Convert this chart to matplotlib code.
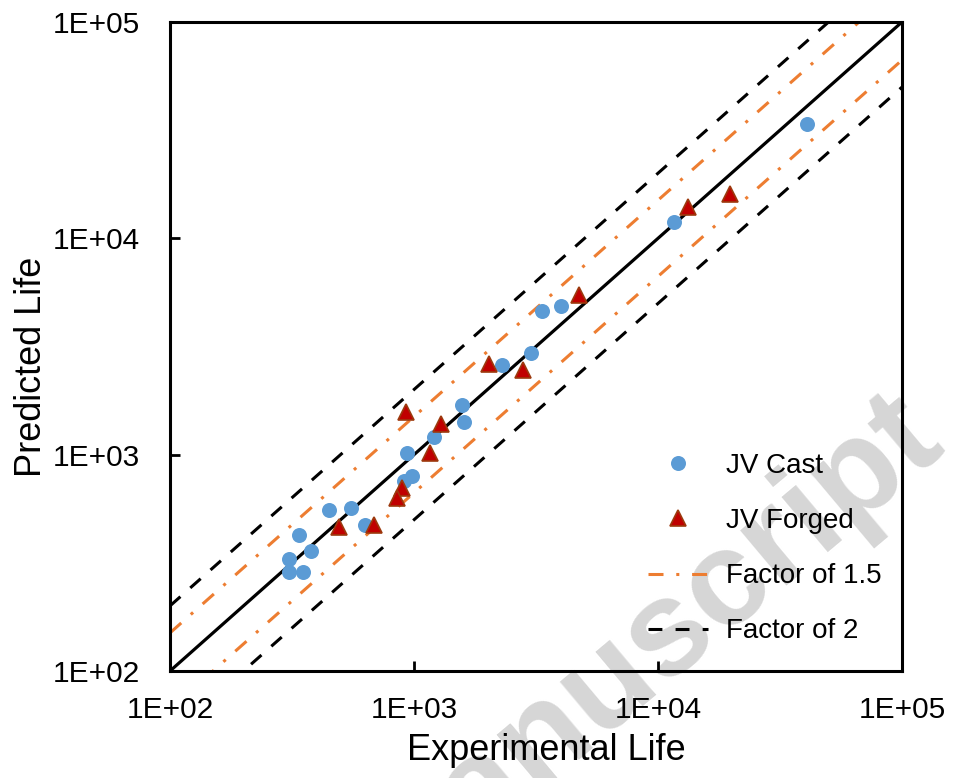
import matplotlib
matplotlib.use('Agg')
import matplotlib.pyplot as plt
import numpy as np

plt.rcParams['font.family'] = ['Liberation Sans', 'DejaVu Sans']
plt.rcParams['lines.scale_dashes'] = False

# ---- data ----
cast_exp = [3340, 4000, 3010, 2300, 1570, 1610, 1210, 933, 984, 912,
            552, 450, 630, 338, 379, 307, 308, 350, 40700, 11630]
cast_pred = [4590, 4890, 2950, 2590, 1700, 1420, 1207, 1018, 794, 753,
             565, 557, 472, 424, 357, 328, 286, 288, 33600, 11890]
forged_exp = [4750, 2035, 2790, 927, 1290, 1163, 893, 849, 494, 688, 13230, 19780]
forged_pred = [5470, 2630, 2450, 1574, 1390, 1018, 702, 631, 464, 475, 13900, 16010]

axis_limits = [1e2, 1e5]
tick_values = [1e2, 1e3, 1e4, 1e5]
tick_labels = ['1E+02', '1E+03', '1E+04', '1E+05']
factor_small = 1.5
factor_large = 2.0
series_labels = ['JV Cast', 'JV Forged', 'Factor of 1.5', 'Factor of 2']

W, H = 956, 778
fig = plt.figure(figsize=(W / 100, H / 100), dpi=100)
fig.patch.set_facecolor('white')
ax = fig.add_axes([170 / W, 1 - 671 / H, 732 / W, 649 / H])
ax.set_facecolor('none')

# watermark (behind the chart)
fig.text(948 / W, 1 - 450 / H, 'Accepted manuscript', rotation=40,
         rotation_mode='anchor', ha='right', va='baseline', fontsize=98,
         fontweight='bold', color='#d6d6d6', zorder=-5)

orange = '#ED7D31'
line_x = np.array(axis_limits)
ax.plot(line_x, line_x, color='black', lw=2.3, zorder=2)
f15, = ax.plot(line_x, line_x * factor_small, color=orange, lw=2.2,
               dashes=(10.8, 9.2, 2.2, 9.2), zorder=2)
ax.plot(line_x, line_x / factor_small, color=orange, lw=2.2,
        dashes=(10.8, 9.2, 2.2, 9.2), zorder=2)
f2, = ax.plot(line_x, line_x * factor_large, color='black', lw=2.2,
              dashes=(10.0, 9.5), zorder=2)
ax.plot(line_x, line_x / factor_large, color='black', lw=2.2,
        dashes=(10.0, 9.5), zorder=2)

cast, = ax.plot(cast_exp, cast_pred, 'o', ms=10.8, color='#5B9BD5',
                mec='#5B9BD5', mew=0, zorder=3)
forged, = ax.plot(forged_exp, forged_pred, '^', ms=11, color='#C00000',
                  mec='#9C3A0E', mew=1.2, zorder=4)

ax.set_xscale('log')
ax.set_yscale('log')
ax.set_xlim(axis_limits)
ax.set_ylim(axis_limits)
ax.set_xticks(tick_values)
ax.set_xticklabels(tick_labels)
ax.set_yticks(tick_values)
ax.set_yticklabels(tick_labels)
ax.minorticks_off()
ax.tick_params(axis='both', which='major', direction='in', length=7.2,
               width=2.0, labelsize=21.5, colors='black')
ax.tick_params(axis='y', pad=21.5)
ax.tick_params(axis='x', pad=18)
for s in ax.spines.values():
    s.set_linewidth(2.2)
    s.set_color('black')

ax.set_xlabel('Experimental Life', fontsize=26, labelpad=6.5)
ax.set_ylabel('Predicted Life', fontsize=26, labelpad=2.5)
ax.xaxis.label.set_x(0.514)
ax.yaxis.label.set_y(0.468)

ax.legend([cast, forged, f15, f2], series_labels, fontsize=20, frameon=False,
          loc='upper left', bbox_to_anchor=((648 - 170) / 732, (671 - 453) / 649),
          borderpad=0, borderaxespad=0, handlelength=2.16, handletextpad=0.65,
          labelspacing=1.05, numpoints=1)

fig.savefig('out.png', dpi=100, facecolor='white')
